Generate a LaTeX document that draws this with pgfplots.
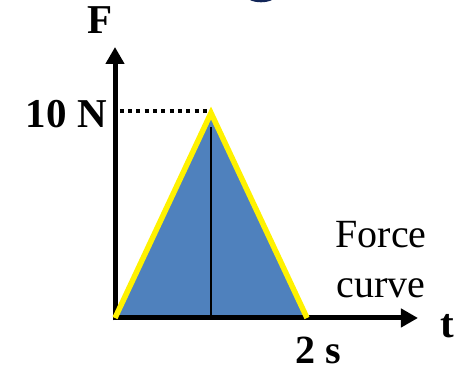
\documentclass[border=0pt]{standalone}
\usepackage{pgfplots}
\pgfplotsset{compat=1.18}
\usepackage{fontspec}
\setmainfont{Liberation Serif}
\usetikzlibrary{arrows.meta}
\definecolor{fillblue}{HTML}{4F81BD}
\definecolor{navy}{RGB}{18,38,88}
\begin{document}
\begin{tikzpicture}
\begin{axis}[
  width=458pt, height=373pt, scale only axis,
  xmin=-1.1979, xmax=3.5729, ymin=-2.683, ymax=15.512,
  hide axis, clip=true,
]
\coordinate (bl) at (rel axis cs:0,0);
\coordinate (tr) at (rel axis cs:1,1);
% force curve (triangle)
\addplot[fill=fillblue, draw=none] coordinates {(0,0) (1,10) (2,0)} -- cycle;
\addplot[black, line width=1.6pt] coordinates {(1,0) (1,9.3)};
% dotted guide to the peak
\addplot[black, line width=4pt, dash pattern=on 4pt off 4.3pt] coordinates {(0.05,10.1) (0.99,10.1)};
% axes
\draw[line width=5pt, -{Triangle[length=17pt,width=18pt]}] (axis cs:0,-0.12) -- (axis cs:0,13.22);
\draw[line width=5pt, -{Triangle[length=17pt,width=18pt]}] (axis cs:-0.025,0) -- (axis cs:3.156,0);
% yellow outline
\addplot[yellow, line width=5.5pt, line join=miter] coordinates {(0,0) (1,10) (2,0)};
% labels
\node[font=\fontsize{41}{41}\selectfont\bfseries, anchor=base, inner sep=0pt] at (axis cs:-0.156,13.9) {F};
\node[font=\fontsize{41}{41}\selectfont\bfseries, anchor=base east, inner sep=0pt] at (axis cs:-0.083,9.27) {10 N};
\node[font=\fontsize{40}{40}\selectfont\bfseries, anchor=base, inner sep=0pt] at (axis cs:2.115,-2.244) {2 s};
\node[font=\fontsize{41}{41}\selectfont\bfseries, anchor=base, inner sep=0pt] at (axis cs:3.458,-0.976) {t};
\node[font=\fontsize{40}{40}\selectfont, anchor=base, inner sep=0pt] at (axis cs:2.771,3.45) {Force};
\node[font=\fontsize{40}{40}\selectfont, anchor=base, inner sep=0pt] at (axis cs:2.771,0.976) {curve};
% partial navy shape at the top edge
\addplot[fill=navy, draw=none, smooth] coordinates {(1.406,15.66) (1.406,15.512) (1.458,15.429) (1.521,15.40) (1.583,15.429) (1.635,15.512) (1.635,15.66)} -- cycle;
\end{axis}
\pgfresetboundingbox
\useasboundingbox (bl) rectangle (tr);
\end{tikzpicture}
\end{document}
